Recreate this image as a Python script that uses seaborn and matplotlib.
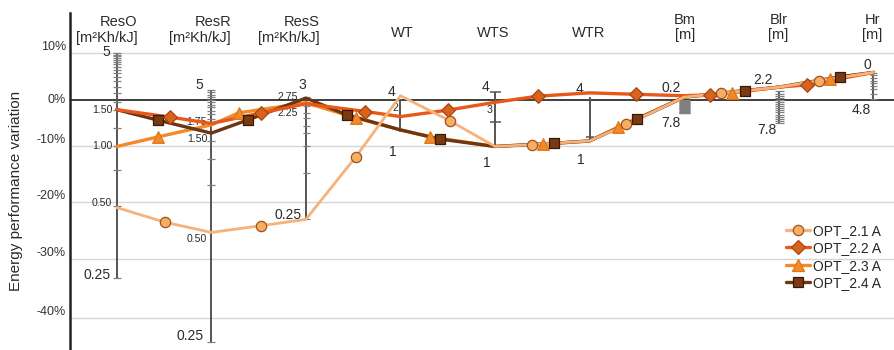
import numpy as np
import pandas as pd
import matplotlib
matplotlib.use("Agg")
import matplotlib.pyplot as plt
import matplotlib.transforms as mtransforms
from matplotlib.lines import Line2D
import seaborn as sns

# ---------------------------------------------------------------- data
PARAMS = ["ResO", "ResR", "ResS", "WT", "WTS", "WTR", "Bm", "Blr", "Hr"]
UNITS = ["[m²Kh/kJ]", "[m²Kh/kJ]", "[m²Kh/kJ]", "", "", "", "[m]", "[m]", "[m]"]
SERIES = ["OPT_2.1 A", "OPT_2.2 A", "OPT_2.3 A", "OPT_2.4 A"]
Y_TICKS = [10, 0, -10, -20, -30, -40]
Y_TICK_LABELS = ["10%", "0%", "-10%", "-20%", "-30%", "-40%"]

# energy performance variation (%) on each parameter axis
OPT_21 = [-20.9, -25.3, -23.0, 1.0, -10.0, -8.8, 0.7, 2.8, 5.9]
OPT_22 = [-2.0, -5.0, -0.7, -3.5, -0.4, 1.6, 1.0, 2.8, 5.9]
OPT_23 = [-10.0, -5.3, -0.5, -6.4, -10.0, -8.8, 0.7, 2.8, 5.9]
OPT_24 = [-2.0, -7.1, 0.5, -6.4, -10.0, -8.8, 0.7, 2.8, 5.9]

# marked intermediate points: position along the parameter sequence / variation (%)
OPT_21_MX = [0.51, 1.53, 2.53, 3.52, 4.39, 5.39, 6.39, 7.43]
OPT_21_MY = [-23.5, -24.1, -11.8, -4.4, -9.6, -5.2, 1.5, 4.2]
OPT_22_MX = [0.56, 1.53, 2.63, 3.50, 4.45, 5.49, 6.27, 7.30]
OPT_22_MY = [-3.6, -2.7, -2.4, -2.1, 0.9, 1.3, 1.2, 3.3]
OPT_23_MX = [0.44, 1.29, 2.53, 3.31, 4.51, 5.30, 6.51, 7.54]
OPT_23_MY = [-7.9, -2.7, -3.8, -7.9, -9.5, -5.8, 1.6, 4.5]
OPT_24_MX = [0.44, 1.39, 2.43, 3.42, 4.62, 5.50, 6.64, 7.65]
OPT_24_MY = [-4.3, -4.2, -3.1, -8.4, -9.3, -4.1, 2.1, 5.0]

# range of each parameter scale (variation % at its two ends)
AXIS_SPAN = [(10.0, -33.3), (2.2, -44.0), (0.7, -23.0), (0.3, -6.8),
             (1.85, -9.9), (0.8, -8.6), (0.0, -2.8), (1.9, -4.8), (5.7, 0.0)]
# graduation marks of each parameter scale (variation %)
AXIS_MARKS = [
    [10.0, 9.6, 9.3, 8.9, 8.5, 8.1, 7.6, 7.1, 6.5, 5.8, 5.0, 4.1, 2.9, 1.5,
     -0.4, -2.1, -5.9, -10.0, -14.2, -20.6, -33.3],
    [2.2, 1.7, 1.2, 0.7, 0.2, -0.3, -0.9, -1.5, -2.2, -3.0, -4.0, -5.1,
     -8.9, -12.3, -16.9, -25.2, -44.0],
    [0.7, -0.4, -1.3, -2.8, -3.9, -5.5, -7.1, -10.0, -14.8, -23.0],
    [],
    [1.85, -4.7],
    [-7.9],
    [0.0, -0.15, -0.3, -0.45, -0.6, -0.75, -0.9, -1.05, -1.2, -1.35, -1.5,
     -1.65, -1.8, -1.95, -2.1, -2.25, -2.4, -2.55, -2.7, -2.8],
    [1.9, 1.45, 1.0, 0.55, 0.1, -0.35, -0.8, -1.25, -1.7, -2.15, -2.6,
     -3.05, -3.5, -3.95, -4.4, -4.8],
    [5.7, 5.3, 4.8, 4.2, 3.6, 3.0, 2.4, 1.3, 0.25],
]
# parameter values written along the scales: (scale index, text, level %)
AXIS_LABELS = [
    (0, "5", 10.2), (0, "1.50", -2.07), (0, "1.00", -10.0), (0, "0.50", -20.1), (0, "0.25", -32.7),
    (1, "5", 3.26), (1, "1.75", -4.74), (1, "1.50", -8.43), (1, "0.50", -26.5), (1, "0.25", -43.0),
    (2, "3", 3.26), (2, "2.75", 0.8), (2, "2.25", -2.78), (2, "0.25", -22.2),
    (3, "4", 1.85), (3, "2", -1.7), (3, "1", -10.9),
    (4, "4", 2.9), (4, "3", -2.07), (4, "1", -13.0),
    (5, "4", 2.42), (5, "1", -12.4),
    (6, "0.2", 2.57), (6, "7.8", -4.96),
    (7, "2.2", 4.3), (7, "7.8", -6.41),
    (8, "0", 7.47), (8, "4.8", -2.07),
]

# ---------------------------------------------------------------- layout / style
LABEL_DX = [-10, -14.7, -14.7, -15.2, -19.2,
            -11.7, -15, -14.2, -14.7, -21.7,
            -3.7, -18.2, -17.7, -18.2,
            -8.6, -5.3, -7.3,
            -10, -5.3, -8,
            -10.3, -8.6,
            -13.3, -13.3,
            -16, -12,
            -6, -12.3]
LABEL_BIG = [1, 0, 0, 0, 1,
             1, 0, 0, 0, 1,
             1, 0, 0, 1,
             1, 0, 1,
             1, 0, 1,
             1, 1,
             1, 1,
             1, 1,
             1, 1]
MARK_WIDTH = [7.5, 8, 7, 0, 11, 8, 11, 9, 7]
HEADER_DX = [-10, -11, -17, 1.5, -2, -1, 1, -0.5, -1]

STYLE = {
    "OPT_2.1 A": dict(line="#F5B27A", face="#F6AE63", edge="#A0521D", marker="o", s=55, lw=2.0, z=6),
    "OPT_2.2 A": dict(line="#E8581A", face="#D8621E", edge="#A8450F", marker="D", s=48, lw=2.4, z=5),
    "OPT_2.3 A": dict(line="#F28A2A", face="#F28A2A", edge="#E07515", marker="^", s=70, lw=2.4, z=3),
    "OPT_2.4 A": dict(line="#6E3511", face="#7A3A12", edge="#3A1A05", marker="s", s=45, lw=2.4, z=4),
}

sns.set_style("white")
plt.rcParams["font.family"] = ["Liberation Sans", "DejaVu Sans"]
TEXT = "#2b2b2b"

fig = plt.figure(figsize=(8.95, 3.5), dpi=100)
ax = fig.add_axes([70 / 895, 0, 825 / 895, 337.3 / 350])

# piecewise-linear y scale: the lower bands of the axis are drawn taller
_V = np.array([-50, -40, -30, -20, -10, 0, 10, 20], float)
_U = np.array([-58.21, -45.79, -33.37, -21.47, -9.684, 0, 10, 20], float)
ax.set_yscale("function", functions=(lambda v: np.interp(v, _V, _U),
                                     lambda u: np.interp(u, _U, _V)))

# ---------------------------------------------------------------- series
values = {"OPT_2.1 A": OPT_21, "OPT_2.2 A": OPT_22, "OPT_2.3 A": OPT_23, "OPT_2.4 A": OPT_24}
mark_x = {"OPT_2.1 A": OPT_21_MX, "OPT_2.2 A": OPT_22_MX, "OPT_2.3 A": OPT_23_MX, "OPT_2.4 A": OPT_24_MX}
mark_y = {"OPT_2.1 A": OPT_21_MY, "OPT_2.2 A": OPT_22_MY, "OPT_2.3 A": OPT_23_MY, "OPT_2.4 A": OPT_24_MY}

frames = []
for name in SERIES:
    frames.append(pd.DataFrame({
        "pos": list(range(len(PARAMS))) + mark_x[name],
        "variation": values[name] + mark_y[name],
        "series": name,
    }))
df = pd.concat(frames, ignore_index=True)

for name in SERIES:
    st = STYLE[name]
    sns.lineplot(data=df[df["series"] == name], x="pos", y="variation", sort=True,
                 estimator=None, color=st["line"], linewidth=st["lw"], zorder=st["z"],
                 legend=False, ax=ax)
for name in SERIES:
    st = STYLE[name]
    sns.scatterplot(x=mark_x[name], y=mark_y[name], marker=st["marker"], s=st["s"],
                    color=st["face"], edgecolor=st["edge"], linewidth=0.9,
                    zorder=10 + st["z"], legend=False, ax=ax)

# ---------------------------------------------------------------- parameter scales
for i, (top, bot) in enumerate(AXIS_SPAN):
    if i != 6:
        ax.plot([i, i], [top, bot], color="#555555", lw=1.4, zorder=2, solid_capstyle="butt")
    if AXIS_MARKS[i]:
        dense = len(AXIS_MARKS[i]) > 8
        ax.plot([i] * len(AXIS_MARKS[i]), AXIS_MARKS[i], ls="none", marker="_",
                markersize=MARK_WIDTH[i] * 0.72, markeredgewidth=0.9 if dense else 1.1,
                color="#808080" if dense else "#555555", zorder=2)

for (idx, txt, lvl), dx, big in zip(AXIS_LABELS, LABEL_DX, LABEL_BIG):
    tr = mtransforms.offset_copy(ax.transData, fig=fig, x=dx, y=0, units="dots")
    ax.text(idx, lvl, txt, transform=tr, ha="center", va="center",
            fontsize=10 if big else 7.6, color=TEXT, zorder=2.5)

# parameter headers
hdr = mtransforms.blended_transform_factory(ax.transData, ax.transAxes)
for i, (p, u) in enumerate(zip(PARAMS, UNITS)):
    tr = mtransforms.offset_copy(hdr, fig=fig, x=HEADER_DX[i], y=0, units="dots")
    if u:
        ypix = 30 if i < 3 else 27.8
        ax.text(i, (350 - ypix) / 337.3, p + "\n" + u, transform=tr, ha="center", va="center",
                multialignment="right" if i < 3 else "center", linespacing=1.12,
                fontsize=10.5, color=TEXT)
    else:
        ax.text(i, (350 - 33) / 337.3, p, transform=tr, ha="center", va="center",
                fontsize=10.5, color=TEXT)

# ---------------------------------------------------------------- axes
for v in Y_TICKS:
    if v != 0:
        ax.axhline(v, color="#D6D6D6", lw=1.0, zorder=0)
ax.axhline(0, color="#1e1e1e", lw=1.2, zorder=1.5)

ax.set_xlim(-0.494, 8.229)
ax.set_ylim(-45.43, 18.48)
ax.set_xticks([])
ax.set_yticks(Y_TICKS)
ax.set_yticklabels(Y_TICK_LABELS)
ax.tick_params(axis="y", length=0, pad=3, labelsize=9, labelcolor="#333333")
for t in ax.get_yticklabels():
    t.set_va("center" if t.get_text() == "0%" else "bottom")
for s in ["top", "right", "bottom"]:
    ax.spines[s].set_visible(False)
ax.spines["left"].set_color("#222222")
ax.spines["left"].set_linewidth(1.8)
ax.set_xlabel("")
ax.set_ylabel("")
fig.text(16 / 895, 1 - 191 / 350, "Energy performance variation", rotation=90,
         ha="center", va="center", fontsize=11, color=TEXT)

# ---------------------------------------------------------------- legend
handles = [Line2D([], [], color=STYLE[n]["line"], lw=2.4, marker=STYLE[n]["marker"],
                  markersize=np.sqrt(STYLE[n]["s"]), markerfacecolor=STYLE[n]["face"],
                  markeredgecolor=STYLE[n]["edge"], markeredgewidth=0.9) for n in SERIES]
fig.legend(handles, SERIES, loc="upper left", bbox_to_anchor=(786 / 895, 1 - 224 / 350),
           bbox_transform=fig.transFigure, frameon=False, fontsize=10,
           handlelength=1.75, handletextpad=0.2, labelspacing=0.24,
           borderpad=0, borderaxespad=0)

fig.savefig("out.png", dpi=100, facecolor="white")
